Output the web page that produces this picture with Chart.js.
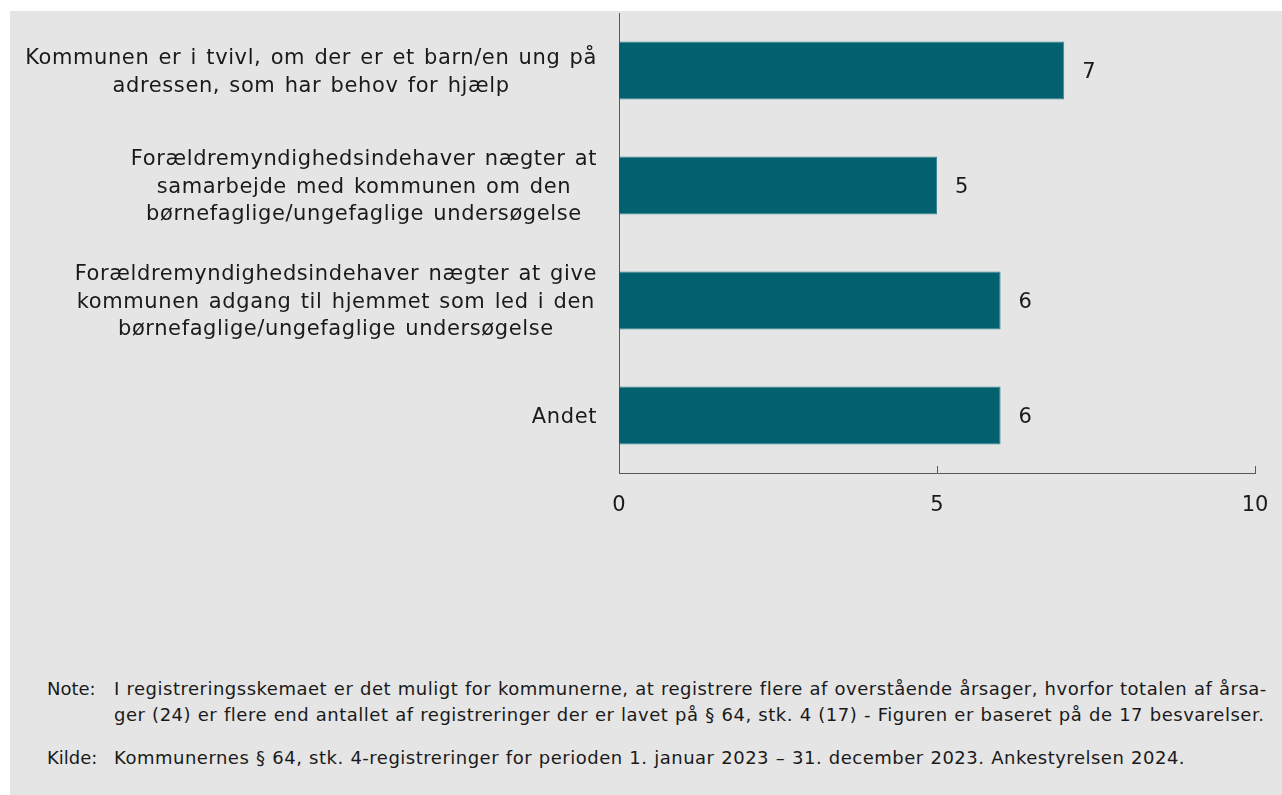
<!DOCTYPE html>
<html>
<head>
<meta charset="utf-8">
<script src="https://cdn.jsdelivr.net/npm/chart.js@4"></script>
<style>
  html, body { margin: 0; padding: 0; background: #ffffff; }
  #panel { position: absolute; left: 10px; top: 11px; width: 1272px; height: 784px; background: #e5e5e5; }
  #wrap { position: absolute; left: 0; top: 0; width: 1272px; height: 540px; }
  .note { position: absolute; left: 37px; font-family: "DejaVu Sans", Verdana, sans-serif; font-size: 18px; color: #1a1a1a; line-height: 26px; letter-spacing: 0.5px; word-spacing: 0.5px; white-space: nowrap; }
  .note .lab { position: absolute; left: 0; top: 0; letter-spacing: 0; word-spacing: 0; }
  .note .txt { position: absolute; left: 67px; top: 0; width: 1170px; }
</style>
</head>
<body>
<div id="panel">
  <div id="wrap"><canvas id="c"></canvas></div>
  <div class="note" style="top:665px;"><span class="lab">Note:</span><div class="txt">I registreringsskemaet er det muligt for kommunerne, at registrere flere af overstående årsager, hvorfor totalen af årsa-<br>ger (24) er flere end antallet af registreringer der er lavet på § 64, stk. 4 (17) - Figuren er baseret på de 17 besvarelser.</div></div>
  <div class="note" style="top:734px;"><span class="lab">Kilde:</span><div class="txt">Kommunernes § 64, stk. 4-registreringer for perioden 1. januar 2023 – 31. december 2023. Ankestyrelsen 2024.</div></div>
</div>
<script>
const categories = [
  ["Kommunen er i tvivl, om der er et barn/en ung på", "adressen, som har behov for hjælp"],
  ["Forældremyndighedsindehaver nægter at", "samarbejde med kommunen om den", "børnefaglige/ungefaglige undersøgelse"],
  ["Forældremyndighedsindehaver nægter at give", "kommunen adgang til hjemmet som led i den", "børnefaglige/ungefaglige undersøgelse"],
  ["Andet"]
];
const values = [7, 5, 6, 6];
const xTicks = [0, 5, 10];

const FONT = '"DejaVu Sans", Verdana, sans-serif';
const TEXT = '#1a1a1a';
const AXIS = '#595959';

const customDraw = {
  id: 'customDraw',
  afterDraw(chart) {
    const ctx = chart.ctx;
    const xs = chart.scales.x, ys = chart.scales.y;
    const area = chart.chartArea;
    ctx.save();
    // inward tick marks on x axis
    ctx.strokeStyle = AXIS;
    ctx.lineWidth = 1;
    xTicks.forEach(v => {
      const px = Math.round(xs.getPixelForValue(v)) + 0.5;
      ctx.beginPath();
      ctx.moveTo(px, area.bottom);
      ctx.lineTo(px, area.bottom - 7);
      ctx.stroke();
    });
    // category labels: block right aligned, lines centered within block
    ctx.font = '21px ' + FONT;
    ctx.fillStyle = TEXT;
    ctx.textBaseline = 'middle';
    ctx.textAlign = 'center';
    if ('letterSpacing' in ctx) ctx.letterSpacing = '0.6px';
    if ('wordSpacing' in ctx) ctx.wordSpacing = '2px';
    const rightEdge = area.left - 22;
    const lh = 27.5;
    categories.forEach((lines, i) => {
      const cy = ys.getPixelForValue(i) + 2;
      const w = Math.max(...lines.map(l => ctx.measureText(l).width));
      const cx = rightEdge - w / 2;
      const y0 = cy - (lines.length - 1) * lh / 2;
      lines.forEach((l, j) => ctx.fillText(l, cx, y0 + j * lh));
    });
    if ('letterSpacing' in ctx) ctx.letterSpacing = '0px';
    if ('wordSpacing' in ctx) ctx.wordSpacing = '0px';
    // value labels
    ctx.textAlign = 'left';
    const meta = chart.getDatasetMeta(0);
    meta.data.forEach((el, i) => {
      ctx.fillText(String(values[i]), el.x + 18, el.y + 2);
    });
    ctx.restore();
  }
};

new Chart(document.getElementById('c'), {
  type: 'bar',
  data: {
    labels: categories,
    datasets: [{
      data: values,
      backgroundColor: '#03616f',
      borderColor: '#3a8794',
      borderWidth: 1,
      barPercentage: 1,
      categoryPercentage: 0.505
    }]
  },
  options: {
    indexAxis: 'y',
    responsive: true,
    maintainAspectRatio: false,
    animation: false,
    layout: { padding: { left: 609, right: 27, top: 2, bottom: 0 } },
    plugins: { legend: { display: false }, tooltip: { enabled: false } },
    scales: {
      x: {
        min: 0, max: 10,
        afterBuildTicks: (s) => { s.ticks = xTicks.map(v => ({ value: v })); },
        grid: { display: false, drawTicks: false },
        border: { display: true, color: AXIS, width: 1 },
        ticks: { color: TEXT, font: { family: FONT, size: 21 }, padding: 20, maxRotation: 0 },
        afterFit: (s) => { s.height = 540 - 462; s.paddingLeft = 0; s.paddingRight = 0; }
      },
      y: {
        grid: { display: false, drawTicks: false },
        border: { display: true, color: AXIS, width: 1 },
        ticks: { display: false },
        afterFit: (s) => { s.width = 0; s.paddingTop = 0; s.paddingBottom = 0; }
      }
    }
  },
  plugins: [customDraw]
});
</script>
</body>
</html>
